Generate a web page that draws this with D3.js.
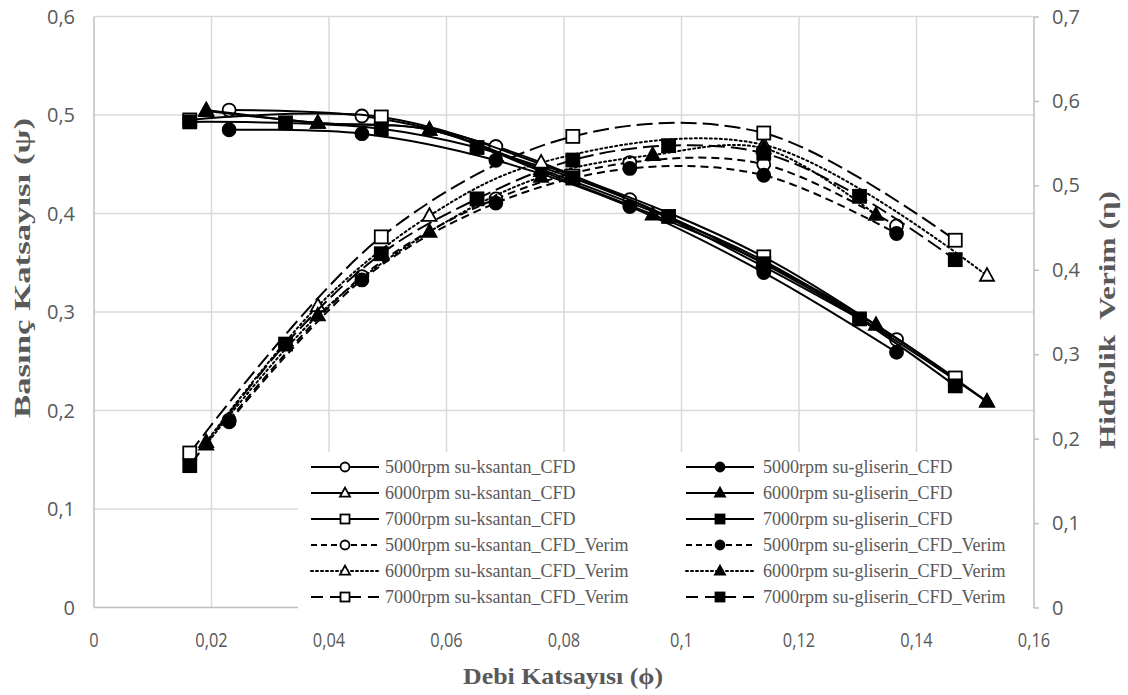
<!DOCTYPE html>
<html>
<head>
<meta charset="utf-8">
<script src="https://cdn.jsdelivr.net/npm/d3@7"></script>
<style>
  html, body { margin: 0; padding: 0; background: #fff; }
  svg { display: block; }
</style>
</head>
<body>
<svg id="chart" width="1128" height="695"></svg>
<script>
// Flow coefficient (phi) sampling for each rotational speed
const phi5000 = [0.0230, 0.0456, 0.0684, 0.0912, 0.1140, 0.1366];
const phi6000 = [0.0191, 0.0381, 0.0571, 0.0761, 0.0951, 0.1140, 0.1331, 0.1520];
const phi6000ks = [0.0191, 0.0381, 0.0571, 0.0761, 0.1140, 0.1520];
const phi7000 = [0.0163, 0.0326, 0.0489, 0.0652, 0.0815, 0.0978, 0.1140, 0.1303, 0.1466];
const phi7000ks = [0.0163, 0.0489, 0.0815, 0.1140, 0.1466];

// Pressure coefficient (psi), left axis
const psi5000ks = [0.505, 0.499, 0.468, 0.414, 0.346, 0.272];
const psi5000gl = [0.485, 0.481, 0.454, 0.407, 0.340, 0.259];
const psi6000ks = [0.505, 0.492, 0.485, 0.445, 0.352, 0.209];
const psi6000gl = [0.504, 0.492, 0.485, 0.443, 0.399, 0.350, 0.287, 0.209];
const psi7000ks = [0.495, 0.498, 0.438, 0.356, 0.233];
const psi7000gl = [0.493, 0.492, 0.486, 0.467, 0.436, 0.397, 0.349, 0.293, 0.225];

// Hydraulic efficiency (eta), right axis
const eta5000ks = [0.222, 0.392, 0.484, 0.527, 0.525, 0.452];
const eta5000gl = [0.220, 0.388, 0.479, 0.520, 0.512, 0.443];
const eta6000ks = [0.196, 0.357, 0.464, 0.527, 0.548, 0.393];
const eta6000gl = [0.193, 0.346, 0.445, 0.510, 0.536, 0.544, 0.465];
const eta7000ks = [0.183, 0.439, 0.558, 0.562, 0.435];
const eta7000gl = [0.168, 0.312, 0.419, 0.484, 0.530, 0.547, 0.538, 0.487, 0.412];

// Axis tick values and labels
const xTicks = [0, 0.02, 0.04, 0.06, 0.08, 0.1, 0.12, 0.14, 0.16];
const yLeftTicks = [0, 0.1, 0.2, 0.3, 0.4, 0.5, 0.6];
const yRightTicks = [0, 0.1, 0.2, 0.3, 0.4, 0.5, 0.6, 0.7];
const fmt = v => String(+v.toFixed(2)).replace(".", ",");

const xTitle = "Debi Katsayısı (ϕ)";
const yLeftTitle = "Basınç Katsayısı (ψ)";
const yRightTitle = "Hidrolik  Verim (η)";

// Series definitions: name, phi, values, axis, marker, fill, dash
const series = [
  { name: "5000rpm su-ksantan_CFD", phi: phi5000, v: psi5000ks, axis: "L", marker: "circle", filled: false, dash: null },
  { name: "5000rpm su-gliserin_CFD", phi: phi5000, v: psi5000gl, axis: "L", marker: "circle", filled: true, dash: null },
  { name: "6000rpm su-ksantan_CFD", phi: phi6000ks, v: psi6000ks, axis: "L", marker: "triangle", filled: false, dash: null },
  { name: "6000rpm su-gliserin_CFD", phi: phi6000, v: psi6000gl, axis: "L", marker: "triangle", filled: true, dash: null },
  { name: "7000rpm su-ksantan_CFD", phi: phi7000ks, v: psi7000ks, axis: "L", marker: "square", filled: false, dash: null },
  { name: "7000rpm su-gliserin_CFD", phi: phi7000, v: psi7000gl, axis: "L", marker: "square", filled: true, dash: null },
  { name: "5000rpm su-ksantan_CFD_Verim", phi: phi5000, v: eta5000ks, axis: "R", marker: "circle", filled: false, dash: "8,5" },
  { name: "5000rpm su-gliserin_CFD_Verim", phi: phi5000, v: eta5000gl, axis: "R", marker: "circle", filled: true, dash: "8,5" },
  { name: "6000rpm su-ksantan_CFD_Verim", phi: phi6000ks, v: eta6000ks, axis: "R", marker: "triangle", filled: false, dash: "2,3" },
  { name: "6000rpm su-gliserin_CFD_Verim", phi: phi6000.slice(0, 7), v: eta6000gl, axis: "R", marker: "triangle", filled: true, dash: "2,3" },
  { name: "7000rpm su-ksantan_CFD_Verim", phi: phi7000ks, v: eta7000ks, axis: "R", marker: "square", filled: false, dash: "16,6" },
  { name: "7000rpm su-gliserin_CFD_Verim", phi: phi7000, v: eta7000gl, axis: "R", marker: "square", filled: true, dash: "16,6" }
];

const svg = d3.select("#chart");
const plot = { left: 94, right: 1034, top: 16.5, bottom: 607.5 };

const x = d3.scaleLinear().domain([0, 0.16]).range([plot.left, plot.right]);
const yL = d3.scaleLinear().domain([0, 0.6]).range([plot.bottom, plot.top]);
const yR = d3.scaleLinear().domain([0, 0.7]).range([plot.bottom, plot.top]);

const tickFont = "'Open Sans', 'Liberation Sans', sans-serif";
const serif = "'Liberation Serif', 'DejaVu Serif', serif";
const gridColor = "#d9d9d9";
const axisColor = "#bfbfbf";
const textGray = "#595959";

// Gridlines
const grid = svg.append("g");
grid.selectAll("line.v").data(xTicks.slice(1, -1)).join("line")
  .attr("x1", d => x(d)).attr("x2", d => x(d))
  .attr("y1", plot.top).attr("y2", plot.bottom)
  .attr("stroke", gridColor).attr("stroke-width", 1.5);
grid.selectAll("line.h").data(yLeftTicks.slice(1)).join("line")
  .attr("x1", plot.left).attr("x2", plot.right)
  .attr("y1", d => yL(d)).attr("y2", d => yL(d))
  .attr("stroke", gridColor).attr("stroke-width", 1.5);

// Left and bottom axis lines
svg.append("line").attr("x1", plot.left).attr("x2", plot.left)
  .attr("y1", plot.top).attr("y2", plot.bottom)
  .attr("stroke", axisColor).attr("stroke-width", 1.5);
svg.append("line").attr("x1", plot.left).attr("x2", plot.right)
  .attr("y1", plot.bottom).attr("y2", plot.bottom)
  .attr("stroke", axisColor).attr("stroke-width", 1.5);

// Right axis with outward ticks
const rightAxis = d3.axisRight(yR).tickValues(yRightTicks).tickSize(5).tickFormat("");
const gR = svg.append("g").attr("transform", `translate(${plot.right},0)`).call(rightAxis);
gR.selectAll("path, line").attr("stroke", axisColor).attr("stroke-width", 1.5);
gR.select("path").attr("d", `M0,${plot.top}V${plot.bottom}`);

// Tick labels
svg.append("g").selectAll("text").data(yLeftTicks).join("text")
  .attr("x", 75).attr("y", d => yL(d)).attr("dy", "0.35em")
  .attr("text-anchor", "end")
  .attr("font-family", tickFont).attr("font-size", 20).attr("fill", textGray)
  .text(fmt);
svg.append("g").selectAll("text").data(yRightTicks).join("text")
  .attr("x", 1052).attr("y", d => yR(d)).attr("dy", "0.35em")
  .attr("text-anchor", "start")
  .attr("font-family", tickFont).attr("font-size", 20).attr("fill", textGray)
  .text(fmt);
svg.append("g").selectAll("text").data(xTicks).join("text")
  .attr("transform", d => `translate(${x(d)},640) scale(0.82,1)`).attr("dy", "0.35em")
  .attr("text-anchor", "middle")
  .attr("font-family", tickFont).attr("font-size", 20).attr("fill", textGray)
  .text(fmt);

// Axis titles
function title(transform, len, txt) {
  svg.append("text").attr("transform", transform).attr("dy", "0.35em")
    .attr("text-anchor", "middle").attr("font-family", serif).attr("font-weight", "bold")
    .attr("font-size", 24).attr("fill", textGray)
    .attr("textLength", len).attr("lengthAdjust", "spacingAndGlyphs")
    .style("white-space", "pre").text(txt);
}
title("translate(563,676)", 200, xTitle);
title("translate(22,268) rotate(-90)", 300, yLeftTitle);
title("translate(1107,320) rotate(-90)", 258, yRightTitle);

// Marker drawing helper
function drawMarker(g, type, cx, cy, size, filled, sw) {
  let el;
  if (type === "circle") {
    el = g.append("circle").attr("cx", cx).attr("cy", cy).attr("r", size / 2);
  } else if (type === "square") {
    el = g.append("rect").attr("x", cx - size / 2).attr("y", cy - size / 2)
      .attr("width", size).attr("height", size);
  } else {
    const h = size * 0.9;
    el = g.append("path").attr("d",
      `M${cx},${cy - h * 0.6}L${cx + size / 2},${cy + h * 0.4}L${cx - size / 2},${cy + h * 0.4}Z`);
  }
  el.attr("fill", filled ? "#000" : "#fff").attr("stroke", "#000").attr("stroke-width", sw);
}

// Series lines and markers
const line = d3.line().curve(d3.curveCatmullRom.alpha(0.5));
const marks = svg.append("g");
series.forEach(s => {
  const y = s.axis === "L" ? yL : yR;
  const pts = s.phi.map((p, i) => [x(p), y(s.v[i])]);
  const g = marks.append("g");
  g.append("path").attr("d", line(pts)).attr("fill", "none")
    .attr("stroke", "#000").attr("stroke-width", 2)
    .attr("stroke-dasharray", s.dash)
    .attr("stroke-linecap", s.dash === "2,3" ? "round" : "butt");
  const size = s.marker === "triangle" ? 14 : 13;
  pts.forEach(p => drawMarker(g, s.marker, p[0], p[1], size, s.filled, 1.8));
});

// Legend (white box covering grid in the lower right)
const legend = svg.append("g");
legend.append("rect").attr("x", 298).attr("y", 452).attr("width", 735).attr("height", 160)
  .attr("fill", "#fff");
const rowY = [467, 493, 519, 545, 571, 597];
const cols = [{ x0: 311, x1: 379, mx: 345, tx: 385 }, { x0: 686, x1: 754, mx: 720, tx: 763 }];
const legendOrder = [0, 2, 4, 6, 8, 10]; // ksantan entries on the left, gliserin on the right
legendOrder.forEach((si, r) => {
  [series[si], series[si + 1]].forEach((s, c) => {
    const col = cols[c];
    const ly = rowY[r];
    legend.append("line").attr("x1", col.x0).attr("x2", col.x1).attr("y1", ly).attr("y2", ly)
      .attr("stroke", "#000").attr("stroke-width", 2)
      .attr("stroke-dasharray", s.dash === "8,5" ? "6,4" : s.dash === "16,6" ? "12,7" : s.dash)
      .attr("stroke-linecap", s.dash === "2,3" ? "round" : "butt");
    drawMarker(legend, s.marker, col.mx, ly, s.marker === "triangle" ? 10 : 9, s.filled, 1.8);
    legend.append("text").attr("x", col.tx).attr("y", ly).attr("dy", "0.35em")
      .attr("font-family", serif).attr("font-size", 18).attr("fill", textGray)
      .text(s.name);
  });
});
</script>
</body>
</html>
